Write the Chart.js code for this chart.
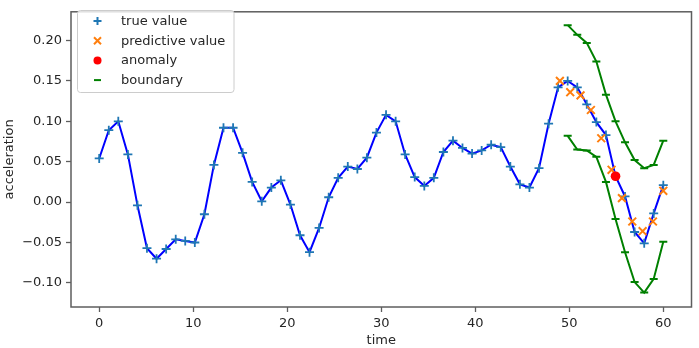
<!DOCTYPE html>
<html>
<head>
<meta charset="utf-8">
<script src="https://cdn.jsdelivr.net/npm/chart.js@4.4.1/dist/chart.umd.min.js"></script>
<style>
  html, body { margin: 0; padding: 0; background: #fff; }
  canvas { display: block; }
</style>
</head>
<body>
<canvas id="chart" width="699" height="348"></canvas>
<script>
// time axis for the measured signal (60 samples)
const timeTrue = [0, 1.02, 2.03, 3.05, 4.07, 5.08, 6.1, 7.12, 8.14, 9.15,
    10.17, 11.19, 12.2, 13.22, 14.24, 15.25, 16.27, 17.29, 18.31, 19.32,
    20.34, 21.36, 22.37, 23.39, 24.41, 25.42, 26.44, 27.46, 28.47, 29.49,
    30.51, 31.53, 32.54, 33.56, 34.58, 35.59, 36.61, 37.63, 38.64, 39.66,
    40.68, 41.69, 42.71, 43.73, 44.75, 45.76, 46.78, 47.8, 48.81, 49.83,
    50.85, 51.86, 52.88, 53.9, 54.92, 55.93, 56.95, 57.97, 58.98, 60];
const trueValue = [0.054, 0.089, 0.100, 0.059, -0.004, -0.057, -0.070, -0.058, -0.046, -0.048,
    -0.050, -0.015, 0.046, 0.092, 0.092, 0.061, 0.025, 0.001, 0.018, 0.027,
    -0.003, -0.041, -0.062, -0.032, 0.006, 0.030, 0.044, 0.041, 0.055, 0.086,
    0.108, 0.100, 0.059, 0.031, 0.020, 0.030, 0.062, 0.076, 0.067, 0.060,
    0.064, 0.071, 0.068, 0.044, 0.022, 0.018, 0.042, 0.097, 0.142, 0.150,
    0.142, 0.121, 0.099, 0.083, 0.032, 0.007, -0.037, -0.051, -0.014, 0.021];

const timePred = [49, 50.1, 51.2, 52.3, 53.4, 54.5, 55.6, 56.7, 57.8, 58.9, 60];
const predValue = [0.150, 0.136, 0.132, 0.114, 0.079, 0.040, 0.005, -0.024, -0.036, -0.024, 0.014];

const timeBound = [49.83, 50.85, 51.86, 52.88, 53.9, 54.92, 55.93, 56.95, 57.97, 58.98, 60];
const upperBound = [0.219, 0.207, 0.197, 0.174, 0.133, 0.100, 0.074, 0.052, 0.042, 0.046, 0.076];
const lowerBound = [0.082, 0.065, 0.064, 0.056, 0.025, -0.021, -0.062, -0.099, -0.112, -0.095, -0.049];

const anomalyTime = [54.92];
const anomalyValue = [0.032];

const xTicks = [0, 10, 20, 30, 40, 50, 60];
const yTicks = [-0.10, -0.05, 0.00, 0.05, 0.10, 0.15, 0.20];

const FONT = "'DejaVu Sans', sans-serif";
const TEXT = '#262626';
const SPINE = '#5e5e5e';

function pts(xs, ys) {
    return xs.map((x, i) => ({ x: x, y: ys[i] }));
}

// frame on all four sides + legend box inside the axes
const framePlugin = {
    id: 'frame',
    afterDraw(chart) {
        const ctx = chart.ctx;
        const a = chart.chartArea;
        ctx.save();
        ctx.strokeStyle = SPINE;
        ctx.lineWidth = 1.5;
        ctx.strokeRect(a.left, a.top, a.right - a.left, a.bottom - a.top);

        // legend
        const bx = 77.5, by = 10.5, bw = 156.5, bh = 82, r = 3;
        ctx.beginPath();
        ctx.moveTo(bx + r, by);
        ctx.arcTo(bx + bw, by, bx + bw, by + bh, r);
        ctx.arcTo(bx + bw, by + bh, bx, by + bh, r);
        ctx.arcTo(bx, by + bh, bx, by, r);
        ctx.arcTo(bx, by, bx + bw, by, r);
        ctx.closePath();
        ctx.fillStyle = 'rgba(255,255,255,0.8)';
        ctx.fill();
        ctx.strokeStyle = '#cccccc';
        ctx.lineWidth = 1;
        ctx.stroke();

        const items = [
            { label: 'true value', style: 'cross', color: '#1f77b4' },
            { label: 'predictive value', style: 'crossRot', color: '#ff7f0e' },
            { label: 'anomaly', style: 'circle', color: '#ff0000' },
            { label: 'boundary', style: 'line', color: '#008000' }
        ];
        const mx = 97.5, tx = 121;
        ctx.font = '13px ' + FONT;
        ctx.textBaseline = 'middle';
        items.forEach((it, i) => {
            const y = 21 + i * 19.7;
            ctx.strokeStyle = it.color;
            ctx.fillStyle = it.color;
            ctx.lineWidth = 2;
            ctx.beginPath();
            if (it.style === 'cross') {
                ctx.moveTo(mx - 4, y); ctx.lineTo(mx + 4, y);
                ctx.moveTo(mx, y - 4); ctx.lineTo(mx, y + 4);
                ctx.stroke();
            } else if (it.style === 'crossRot') {
                ctx.moveTo(mx - 3.5, y - 3.5); ctx.lineTo(mx + 3.5, y + 3.5);
                ctx.moveTo(mx - 3.5, y + 3.5); ctx.lineTo(mx + 3.5, y - 3.5);
                ctx.stroke();
            } else if (it.style === 'circle') {
                ctx.arc(mx, y, 4, 0, Math.PI * 2);
                ctx.fill();
            } else {
                ctx.moveTo(mx - 3.5, y); ctx.lineTo(mx + 3.5, y);
                ctx.stroke();
            }
            ctx.fillStyle = TEXT;
            ctx.fillText(it.label, tx, y + 0.5);
        });
        ctx.restore();
    }
};

const ctx = document.getElementById('chart').getContext('2d');
new Chart(ctx, {
    type: 'scatter',
    data: {
        datasets: [
            {
                label: 'true line',
                data: pts(timeTrue, trueValue),
                showLine: true,
                borderColor: '#0000ff',
                borderWidth: 2,
                pointRadius: 0,
                order: 6
            },
            {
                label: 'true value',
                data: pts(timeTrue, trueValue),
                pointStyle: 'cross',
                pointRadius: 4.5,
                borderWidth: 1.8,
                borderColor: '#1f77b4',
                order: 5
            },
            {
                label: 'predictive value',
                data: pts(timePred, predValue),
                pointStyle: 'crossRot',
                pointRadius: 5.5,
                borderWidth: 2,
                borderColor: '#ff7f0e',
                order: 4
            },
            {
                label: 'anomaly',
                data: pts(anomalyTime, anomalyValue),
                pointStyle: 'circle',
                pointRadius: 4.8,
                borderWidth: 0,
                backgroundColor: '#ff0000',
                order: 3
            },
            {
                label: 'upper boundary',
                data: pts(timeBound, upperBound),
                showLine: true,
                borderColor: '#008000',
                borderWidth: 2,
                pointStyle: 'line',
                pointRadius: 4,
                pointBorderWidth: 2,
                order: 2
            },
            {
                label: 'lower boundary',
                data: pts(timeBound, lowerBound),
                showLine: true,
                borderColor: '#008000',
                borderWidth: 2,
                pointStyle: 'line',
                pointRadius: 4,
                pointBorderWidth: 2,
                order: 1
            }
        ]
    },
    options: {
        responsive: false,
        animation: false,
        devicePixelRatio: 1,
        events: [],
        layout: { padding: { top: 3, right: 5, left: 0, bottom: 0 } },
        plugins: {
            legend: { display: false },
            tooltip: { enabled: false }
        },
        scales: {
            x: {
                type: 'linear',
                min: -3,
                max: 63,
                afterFit: (s) => { s.height = 41; },
                afterBuildTicks: (s) => { s.ticks = xTicks.map(v => ({ value: v })); },
                border: { display: false },
                grid: { drawOnChartArea: false, tickLength: 5, tickColor: SPINE, tickWidth: 1.3 },
                ticks: { color: TEXT, font: { family: FONT, size: 13 }, padding: 4, maxRotation: 0 },
                title: { display: true, text: 'time', color: TEXT, font: { family: FONT, size: 13 }, padding: { top: 0, bottom: 0 } }
            },
            y: {
                min: -0.1298,
                max: 0.2355,
                afterFit: (s) => { s.width = 71; },
                afterBuildTicks: (s) => { s.ticks = yTicks.map(v => ({ value: v })); },
                border: { display: false },
                grid: { drawOnChartArea: false, tickLength: 5, tickColor: SPINE, tickWidth: 1.3 },
                ticks: {
                    color: TEXT,
                    font: { family: FONT, size: 13 },
                    padding: 4,
                    callback: (v) => (v < -1e-9 ? '\u2212' : '') + Math.abs(v).toFixed(2)
                },
                title: { display: true, text: 'acceleration', color: TEXT, font: { family: FONT, size: 13 }, padding: { top: 2, bottom: 0 } }
            }
        }
    },
    plugins: [framePlugin]
});
</script>
</body>
</html>
